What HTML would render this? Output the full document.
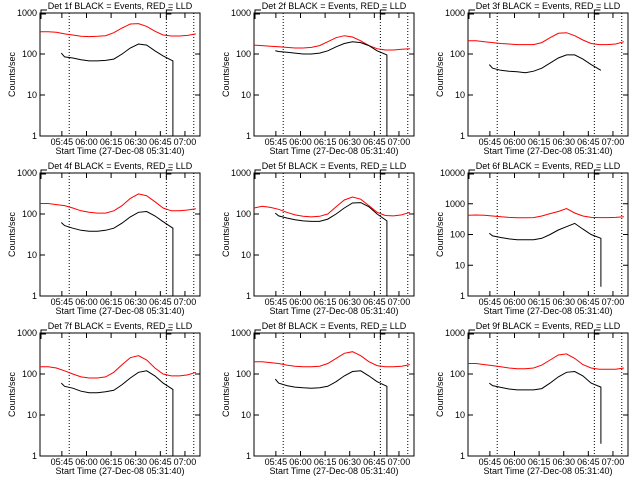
<!DOCTYPE html>
<html><head><meta charset="utf-8"><style>
body{margin:0;background:#fff}
svg{display:block}
text{font-family:"Liberation Sans",sans-serif;font-size:9px;fill:#000}
</style></head><body>
<svg id="c" width="640" height="480" viewBox="0 0 640 480"></svg>
<script>
const times = [0,5,10,15,20,25,30,35,40,45,50,55,60,65,70,75,80,85,90,95];
const blackTimes = [13,15,20,25,30,35,40,45,50,55,60,65,70,75,81];
const detNames = ["1f","2f","3f","4f","5f","6f","7f","8f","9f"];
const red1 = [350,350,340,310,290,270,265,270,280,330,430,540,550,470,360,290,275,275,285,310];
const red2 = [165,160,155,150,145,140,140,145,160,200,250,280,260,210,160,135,125,125,130,135];
const red3 = [210,210,200,190,180,175,170,170,170,190,250,320,330,280,220,180,170,170,175,200];
const red4 = [180,180,170,160,140,120,110,105,105,120,160,240,310,280,200,140,120,120,125,135];
const red5 = [140,155,145,130,110,95,88,85,88,100,150,220,260,230,160,110,92,90,95,110];
const red6 = [420,430,420,400,380,360,350,350,355,400,480,560,700,500,400,360,355,355,360,380];
const red7 = [150,150,140,120,100,85,80,80,85,110,170,250,280,220,140,100,90,90,95,110];
const red8 = [200,200,190,180,165,155,150,150,155,180,240,320,350,280,200,160,150,150,155,170];
const red9 = [180,180,170,160,150,140,135,135,140,165,220,290,310,240,170,140,130,130,130,140];
const black1 = [105,85,80,72,68,68,70,75,100,140,175,165,120,90,68];
const black2 = [120,115,110,105,100,100,105,120,150,180,200,190,160,120,95];
const black3 = [55,45,40,38,37,35,38,45,60,80,95,95,75,55,40];
const black4 = [62,52,45,40,38,38,40,45,60,85,110,115,90,65,45];
const black5 = [105,90,80,72,68,66,66,75,100,140,185,190,150,100,68];
const black6 = [110,90,80,72,68,68,68,75,100,140,180,230,150,100,75];
const black7 = [60,50,45,38,35,35,37,40,55,80,110,120,90,60,42];
const black8 = [75,60,52,48,46,45,46,50,65,90,115,120,90,65,50];
const black9 = [60,52,47,43,41,41,41,44,60,85,110,115,90,60,48];
const dropTo = [1,1,null,1,1,2,1,1,2];
const yMaxDecade = [3,3,3,3,3,4,3,3,3];
const tickLabels = ["05:45","06:00","06:15","06:30","06:45","07:00"];
const tickTimes = [13.33,28.33,43.33,58.33,73.33,88.33];
const dottedTimes = [17.8,77,93.7];
const reds=[red1,red2,red3,red4,red5,red6,red7,red8,red9];
const blacks=[black1,black2,black3,black4,black5,black6,black7,black8,black9];

const NS="http://www.w3.org/2000/svg", svg=document.getElementById('c');
function mk(tag,attrs,parent,txt){const e=document.createElementNS(NS,tag);for(const k in attrs)e.setAttribute(k,attrs[k]);if(txt!=null)e.textContent=txt;(parent||svg).appendChild(e);return e;}
const colX=[0,214,428], rowY=[0,160,320];
for(let i=0;i<9;i++){
  const ox=colX[i%3], oy=rowY[Math.floor(i/3)];
  const L=ox+40, R=L+160, T=oy+13, B=oy+136;
  const tMax=97.5, dmax=yMaxDecade[i];
  const xs=t=>L+t/tMax*(R-L);
  const ys=v=>B-Math.log10(v)/dmax*(B-T);
  const g=mk('g',{});
  
  
  const tt=mk('text',{x:(L+R)/2,y:oy+9,'text-anchor':'middle','font-size':'9.5'},g,'Det '+detNames[i]+' BLACK = Events, RED = LLD');
  
  
  const box=mk('rect',{x:L,y:T,width:R-L,height:B-T,fill:'none',stroke:'#000','stroke-width':1},g);
  
  
  for(let d=0;d<=dmax;d++){
    const y=ys(Math.pow(10,d));
    mk('line',{x1:L,x2:L+5,y1:y,y2:y,stroke:'#000'},g);
    mk('line',{x1:R-5,x2:R,y1:y,y2:y,stroke:'#000'},g);
    const yl=mk('text',{x:L-3,y:y+3,'text-anchor':'end','font-size':'8.5'},g,String(Math.pow(10,d)));
    
    
  }
  tickTimes.forEach((t,k)=>{
    const x=xs(t);
    mk('line',{x1:x,x2:x,y1:B,y2:B-5,stroke:'#000'},g);
    mk('line',{x1:x,x2:x,y1:T,y2:T+5,stroke:'#000'},g);
    const xl=mk('text',{x:x,y:oy+145,'text-anchor':'middle','font-size':'7.5'},g,tickLabels[k]);
    
    
  });
  const xt=mk('text',{x:(L+R)/2,y:oy+154,'text-anchor':'middle','font-size':'8.5'},g,'Start Time (27-Dec-08 05:31:40)');
  
  
  const yt=mk('text',{x:0,y:0,'text-anchor':'middle','font-size':'8',transform:`translate(${ox+15},${(T+B)/2}) rotate(-90)`},g,'Counts/sec');
  
  
  dottedTimes.forEach(t=>{
    const dl=mk('line',{x1:xs(t),x2:xs(t),y1:T,y2:B,stroke:'#000','stroke-dasharray':'1,2'},g);
    
    
  });
  [L+1,xs(dottedTimes[1])].forEach(x=>{
    const e=mk('path',{d:`M${x+6},${T-3}H${x}V${T+6}M${x},${T+1}H${x+5}`,fill:'none',stroke:'#000'},g);
    
    
  });
  const rp=reds[i].map((v,k)=>xs(times[k]).toFixed(1)+','+ys(v).toFixed(1)).join(' ');
  const rl=mk('polyline',{points:rp,fill:'none',stroke:'#ff0000','stroke-width':1},g);
  
  
  let bp=blacks[i].map((v,k)=>xs(blackTimes[k]).toFixed(1)+','+ys(v).toFixed(1));
  if(dropTo[i]!=null){const lt=blackTimes[blackTimes.length-1];bp.push(xs(lt).toFixed(1)+','+ys(dropTo[i]).toFixed(1));}
  const bl=mk('polyline',{points:bp.join(' '),fill:'none',stroke:'#000','stroke-width':1},g);
  
  
}
</script>
</body></html>
